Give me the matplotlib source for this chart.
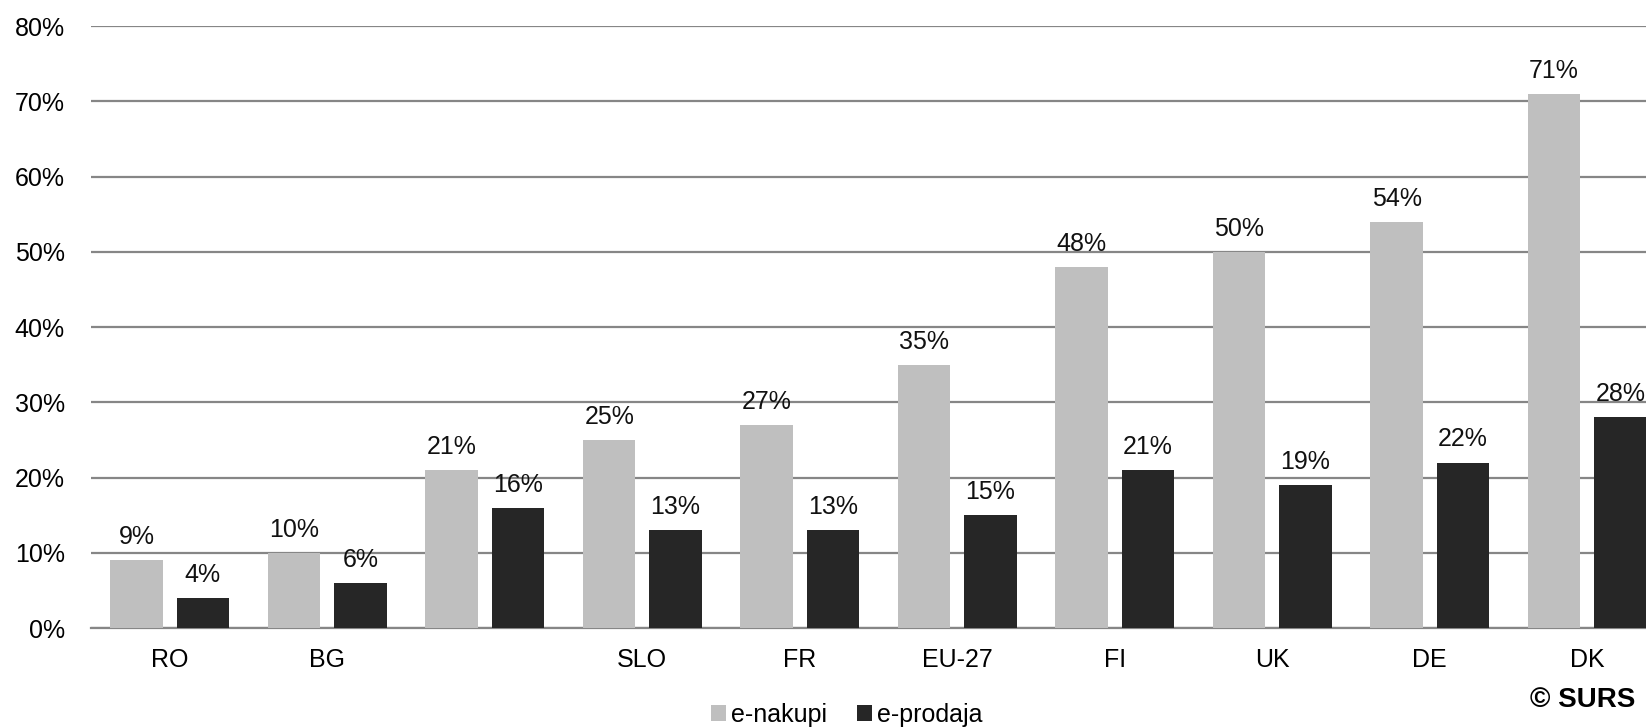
import matplotlib.pyplot as plt
import numpy as np

plt.rcParams['font.family'] = ['Liberation Sans', 'DejaVu Sans']

# podatki
drzave = ['RO', 'BG', '', 'SLO', 'FR', 'EU-27', 'FI', 'UK', 'DE', 'DK']
e_nakupi = [9, 10, 21, 25, 27, 35, 48, 50, 54, 71]
e_prodaja = [4, 6, 16, 13, 13, 15, 21, 19, 22, 28]
serije = ['e-nakupi', 'e-prodaja']

barve = ['#BFBFBF', '#262626']
grid_c = '#868686'

fig = plt.figure(figsize=(16.46, 7.27), dpi=100)
ax = fig.add_axes([0.0553, 0.136, 0.9447, 0.828])

x = np.arange(len(drzave))
w = 0.333
off = 0.21
b1 = ax.bar(x - off, e_nakupi, w, color=barve[0], label=serije[0], zorder=3)
b2 = ax.bar(x + off, e_prodaja, w, color=barve[1], label=serije[1], zorder=3)

for bars, vals in ((b1, e_nakupi), (b2, e_prodaja)):
    for b, v in zip(bars, vals):
        ax.annotate(f'{v}%', (b.get_x() + b.get_width() / 2, v),
                    xytext=(0, 8), textcoords='offset points',
                    ha='center', va='bottom', fontsize=18, color='#111111')

ax.set_ylim(0, 80)
ax.set_xlim(-0.5, 9.373)
ax.set_yticks(range(0, 81, 10))
ax.set_yticklabels([f'{t}%' for t in range(0, 81, 10)], fontsize=18)
ax.set_xticks(x)
ax.set_xticklabels(drzave, fontsize=18)
ax.tick_params(axis='both', length=0)
ax.tick_params(axis='y', pad=19)
ax.tick_params(axis='x', pad=14)
ax.yaxis.grid(True, color=grid_c, linewidth=1.6, zorder=0)
for s in ['top', 'right', 'left']:
    ax.spines[s].set_visible(False)
ax.spines['bottom'].set_color(grid_c)
ax.spines['bottom'].set_linewidth(1.6)

fig.legend(loc='center', bbox_to_anchor=(847 / 1646, 1 - 715 / 727), ncol=2,
           frameon=False, fontsize=18, handlelength=0.6, handleheight=0.6,
           handletextpad=0.2, columnspacing=1.2)
fig.text(1583 / 1646, 1 - 700 / 727, '© SURS', ha='center', va='center',
         fontsize=20, fontweight='bold')

fig.savefig('out.png', dpi=100)
